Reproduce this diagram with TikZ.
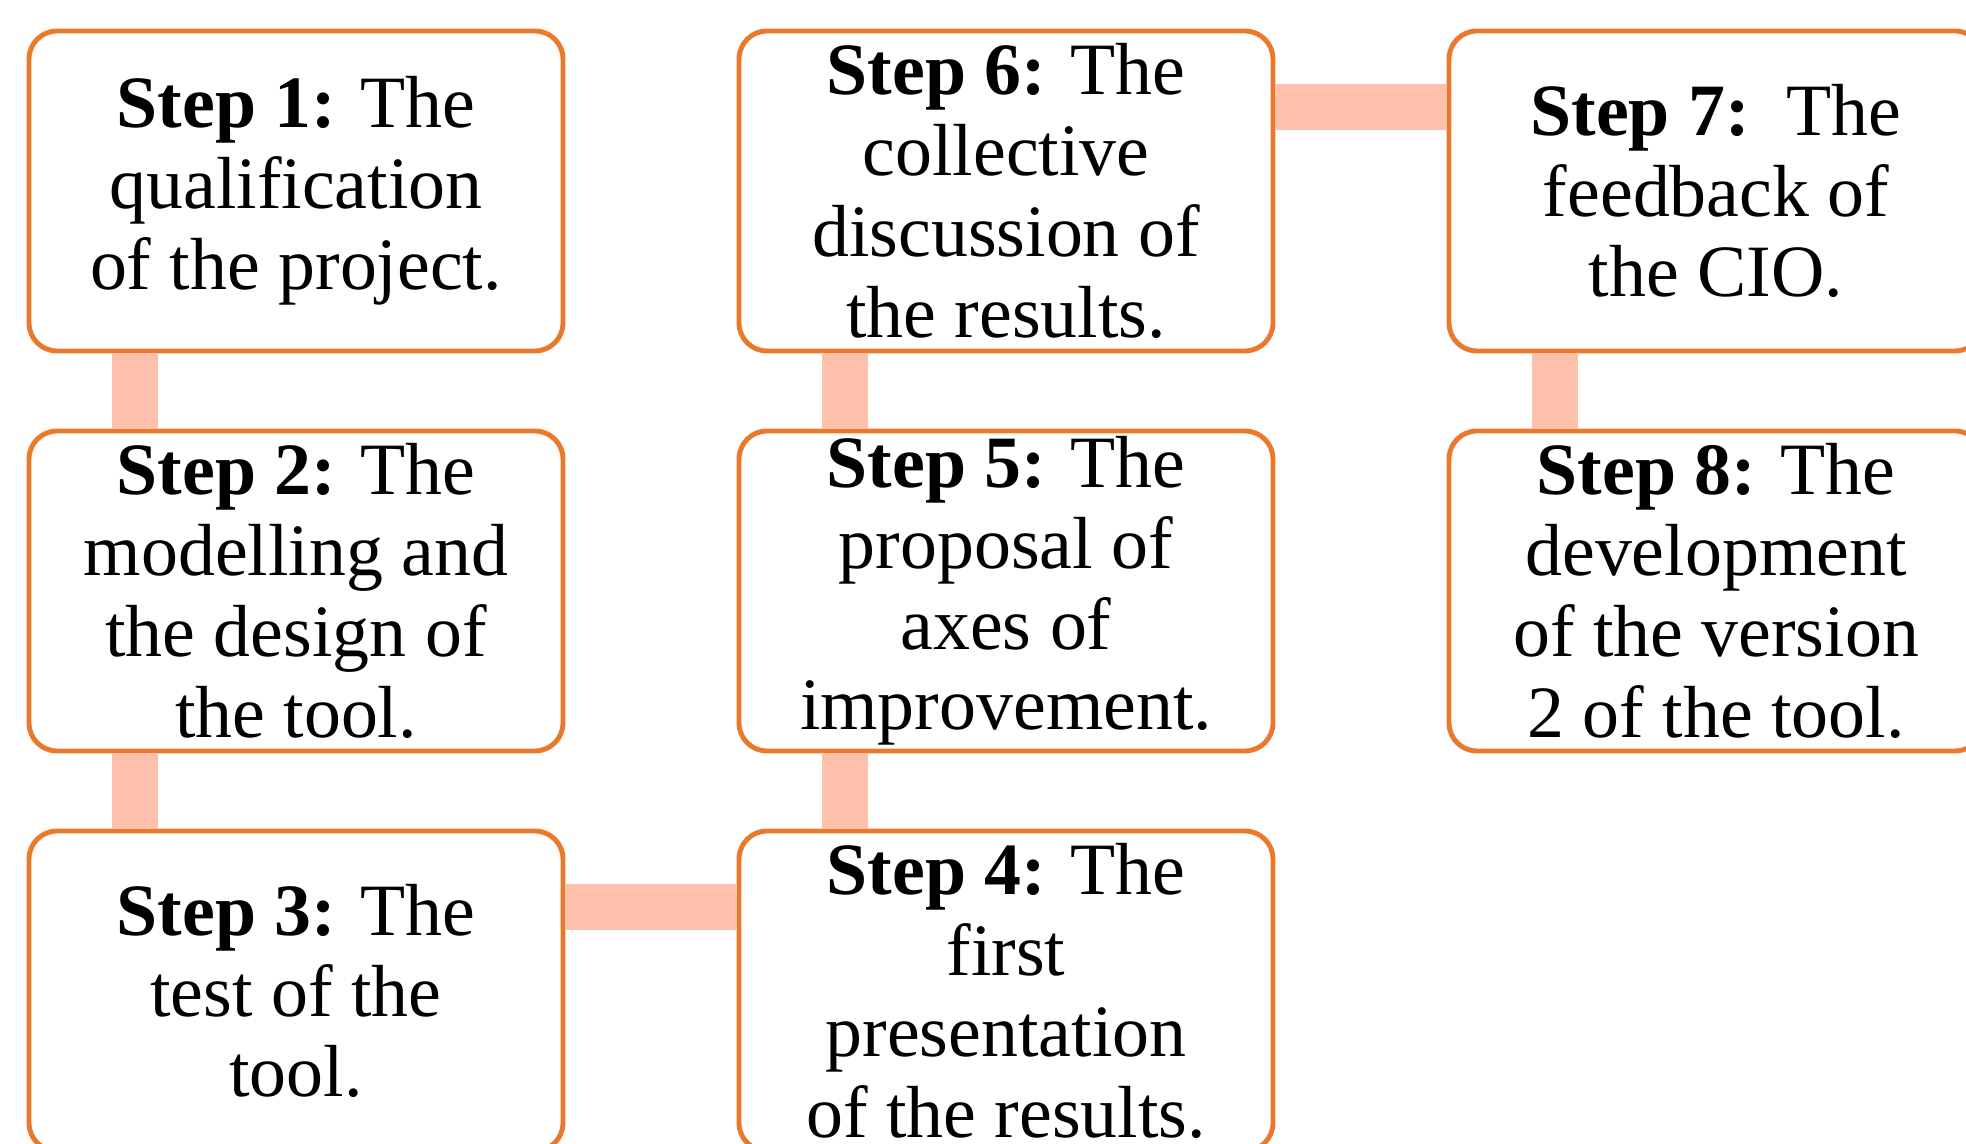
\documentclass[tikz,border=0pt]{standalone}
\usepackage{fontspec}
\setmainfont{Liberation Serif}

\definecolor{boxorange}{HTML}{E97A2B}
\definecolor{linkpink}{HTML}{FCC0AB}

\begin{document}
\begin{tikzpicture}
    \tikzset{
        stepbox/.style = {
            draw = boxorange,
            line width = 1.4pt,
            rounded corners = 0.28cm,
            fill = white,
            inner sep = 0pt,
            minimum width = 5.34cm,
            minimum height = 3.2cm,
            align = center,
            font = \fontsize{21}{23}\selectfont
        },
        link/.style = {
            draw = linkpink,
            line width = 0.46cm
        }
    }

    \def\dx{7.1}
    \def\dy{4}
    \def\bx{1.08cm}
    \def\by{-0.78cm}
    \clip (0, 0) rectangle (19.66, 11.43);

    \node[stepbox] (s1) at (2.96, 1.52 + 2 * \dy) {\textbf{Step 1:} The\\qualification\\of the project.};
    \node[stepbox] (s2) at (2.96, 1.52 + \dy) {\textbf{Step 2:} The\\modelling and\\the design of\\the tool.};
    \node[stepbox] (s3) at (2.96, 1.52) {\textbf{Step 3:} The\\test of the\\tool.};
    \node[stepbox] (s4) at (2.96 + \dx, 1.52) {\textbf{Step 4:} The\\first\\presentation\\of the results.};
    \node[stepbox] (s5) at (2.96 + \dx, 1.52 + \dy) {\textbf{Step 5:} The\\proposal of\\axes of\\improvement.};
    \node[stepbox] (s6) at (2.96 + \dx, 1.52 + 2 * \dy) {\textbf{Step 6:} The\\collective\\discussion of\\the results.};
    \node[stepbox] (s7) at (2.96 + 2 * \dx, 1.52 + 2 * \dy) {\textbf{Step 7:}\ \ The\\feedback of\\the CIO.};
    \node[stepbox] (s8) at (2.96 + 2 * \dx, 1.52 + \dy) {\textbf{Step 8:} The\\development\\of the version\\2 of the tool.};

    % links between the steps
    \draw[link] ([xshift=\bx]s1.south west) -- ([xshift=\bx]s2.north west);
    \draw[link] ([xshift=\bx]s2.south west) -- ([xshift=\bx]s3.north west);
    \draw[link] ([yshift=\by]s3.north east) -- ([yshift=\by]s4.north west);
    \draw[link] ([xshift=\bx]s4.north west) -- ([xshift=\bx]s5.south west);
    \draw[link] ([xshift=\bx]s5.north west) -- ([xshift=\bx]s6.south west);
    \draw[link] ([yshift=\by]s6.north east) -- ([yshift=\by]s7.north west);
    \draw[link] ([xshift=\bx]s7.south west) -- ([xshift=\bx]s8.north west);

\end{tikzpicture}
\end{document}
